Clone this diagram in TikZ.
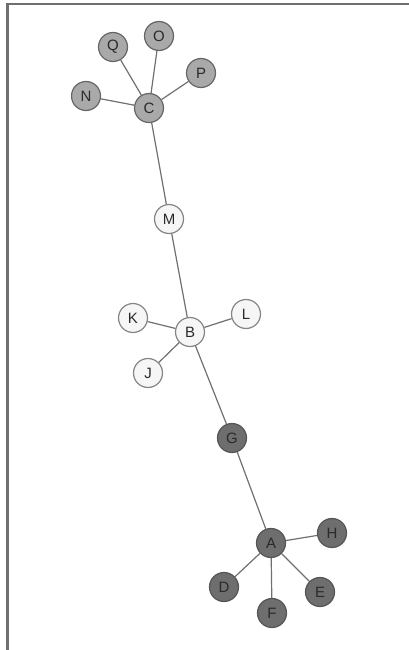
\documentclass[tikz,border=0pt]{standalone}
\usepackage{fontspec}
\setmainfont{Liberation Sans}
\definecolor{edgegray}{HTML}{707070}
\definecolor{midfill}{HTML}{A9A9A9}
\definecolor{midline}{HTML}{666666}
\definecolor{lightfill}{HTML}{F6F6F6}
\definecolor{lightline}{HTML}{858585}
\definecolor{darkfill}{HTML}{6E6E6E}
\definecolor{darkline}{HTML}{555555}
\definecolor{labelgray}{HTML}{2A2A2A}
\definecolor{framegray}{HTML}{6F6F6F}
\begin{document}
\begin{tikzpicture}[x=1pt,y=-1pt,
  vertex/.style={circle,minimum size=29pt,inner sep=0pt,line width=1.2pt,
    font=\fontsize{15}{15}\selectfont,text=labelgray},
  midvertex/.style={vertex,fill=midfill,draw=midline},
  lightvertex/.style={vertex,fill=lightfill,draw=lightline},
  darkvertex/.style={vertex,fill=darkfill,draw=darkline},
  link/.style={draw=edgegray,line width=1.2pt}]
\useasboundingbox (0,0) rectangle (409,650);
% frame: left and top rules
\draw[line width=2.2pt,color=framegray] (7.5,650) -- (7.5,4) -- (409,4);

% upper cluster
\node[midvertex] (C) at (149,108) {C};
\node[midvertex] (Q) at (113,47) {Q};
\node[midvertex] (O) at (159,36) {O};
\node[midvertex] (P) at (201,73) {P};
\node[midvertex] (N) at (86,96) {N};

% middle cluster
\node[lightvertex] (M) at (169,219) {M};
\node[lightvertex] (B) at (190,332) {B};
\node[lightvertex] (K) at (133,318) {K};
\node[lightvertex] (L) at (246,314) {L};
\node[lightvertex] (J) at (148,373) {J};

% lower cluster
\node[darkvertex] (G) at (232,438) {G};
\node[darkvertex] (A) at (271,543) {A};
\node[darkvertex] (H) at (332,533) {H};
\node[darkvertex] (D) at (224,587) {D};
\node[darkvertex] (F) at (272,613) {F};
\node[darkvertex] (E) at (320,592) {E};

% connectors
\path[link] (C) -- (Q) (C) -- (O) (C) -- (P) (C) -- (N) (C) -- (M)
  (M) -- (B) (B) -- (K) (B) -- (L) (B) -- (J) (B) -- (G)
  (G) -- (A) (A) -- (H) (A) -- (D) (A) -- (F) (A) -- (E);
\end{tikzpicture}
\end{document}
